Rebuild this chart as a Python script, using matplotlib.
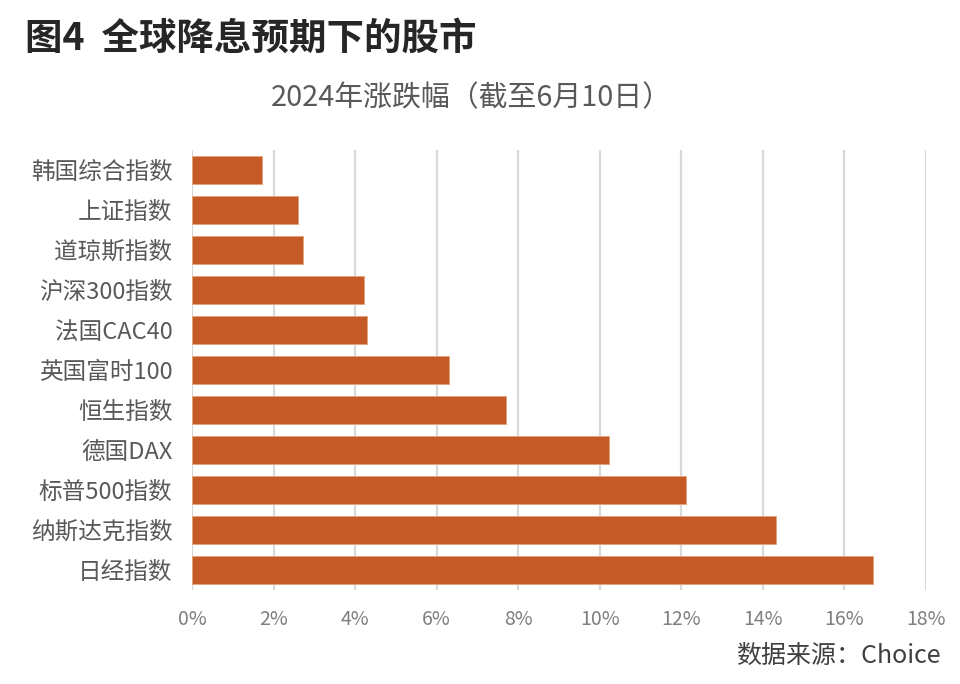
import matplotlib
matplotlib.use("Agg")
import matplotlib.pyplot as plt

plt.rcParams['font.family'] = ['Noto Sans CJK SC', 'DejaVu Sans']

# 2024年涨跌幅（截至6月10日），单位 %
names = ['韩国综合指数', '上证指数', '道琼斯指数', '沪深300指数', '法国CAC40',
         '英国富时100', '恒生指数', '德国DAX', '标普500指数', '纳斯达克指数', '日经指数']
values = [1.71, 2.59, 2.72, 4.21, 4.30, 6.31, 7.71, 10.23, 12.12, 14.32, 16.71]
xticks = [0, 2, 4, 6, 8, 10, 12, 14, 16, 18]

fig = plt.figure(figsize=(9.6, 6.84), dpi=100)
ax = fig.add_axes([0.2, 0.1374, 0.7646, 0.6433])

ax.barh(range(len(names)), values, height=0.68, color='#C45A25',
        edgecolor='#E8A07A', linewidth=0.6, zorder=3)

ax.set_xlim(0, 18)
ax.set_ylim(len(names) - 0.5, -0.5)
ax.set_yticks(range(len(names)))
ax.set_yticklabels(names, fontsize=17, color='#595959')
ax.set_xticks(xticks)
ax.set_xticklabels([f'{t}%' for t in xticks], fontsize=14, color='#7f7f7f')
ax.tick_params(axis='both', length=0)
ax.tick_params(axis='y', pad=14)
ax.tick_params(axis='x', pad=14)

for s in ['top', 'right', 'bottom', 'left']:
    ax.spines[s].set_visible(False)
ax.grid(axis='x', color='#D9D9D9', linewidth=1.6, zorder=0)
ax.set_axisbelow(True)

fig.text(0.026, 0.944, '图4  全球降息预期下的股市', fontsize=27, fontweight='bold',
         color='#262626', ha='left', va='center')
fig.text(0.4915, 0.857, '2024年涨跌幅（截至6月10日）', fontsize=20.8, color='#595959',
         ha='center', va='center')
fig.text(0.98, 0.041, '数据来源：Choice', fontsize=18, color='#404040',
         ha='right', va='center')

fig.savefig('out.png', dpi=100)
